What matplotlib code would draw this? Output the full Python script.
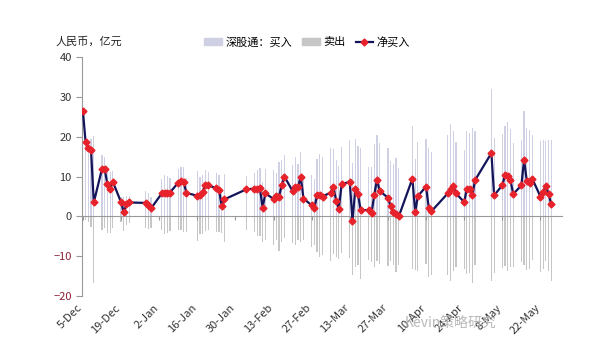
import matplotlib.pyplot as plt
import matplotlib.transforms as mtransforms
import pandas as pd
from matplotlib.patches import Patch
from matplotlib.lines import Line2D

plt.rcParams['font.family'] = ['Noto Sans CJK SC', 'DejaVu Sans']

# trading days (Dec -> 2016, others -> 2017), values in RMB 100m
days = ['12-05', '12-06', '12-07', '12-08', '12-09', '12-12', '12-13', '12-14', '12-15', '12-16',
        '12-19', '12-20', '12-21', '12-22', '12-28', '12-29', '12-30',
        '01-03', '01-04', '01-05', '01-06', '01-09', '01-10', '01-11', '01-12',
        '01-16', '01-17', '01-18', '01-19', '01-20', '01-23', '01-24', '01-25', '01-26',
        '02-03', '02-06', '02-07', '02-08', '02-09', '02-10',
        '02-13', '02-14', '02-15', '02-16', '02-17', '02-20', '02-21', '02-22', '02-23', '02-24',
        '02-27', '02-28', '03-01', '03-02', '03-03', '03-06', '03-07', '03-08', '03-09', '03-10',
        '03-13', '03-14', '03-15', '03-16', '03-17', '03-20', '03-21', '03-22', '03-23', '03-24',
        '03-27', '03-28', '03-29', '03-30', '03-31', '04-05', '04-06', '04-07',
        '04-10', '04-11', '04-12', '04-18', '04-19', '04-20', '04-21',
        '04-24', '04-25', '04-26', '04-27', '04-28', '05-04', '05-05',
        '05-08', '05-09', '05-10', '05-11', '05-12', '05-15', '05-16', '05-17', '05-18', '05-19',
        '05-22', '05-23', '05-24', '05-25', '05-26']

net = [26.6, 18.6, 17.3, 16.7, 3.5, 11.9, 11.9, 8.1, 7.0, 8.7,
       3.6, 1.1, 3.0, 3.5, 3.4, 2.8, 2.0,
       5.8, 5.9, 5.9, 6.0, 8.5, 8.9, 8.7, 5.9,
       5.2, 5.3, 6.2, 8.0, 7.8, 7.1, 6.6, 2.6, 4.3,
       6.8, 7.0, 6.8, 7.1, 2.2, 5.8,
       4.4, 5.1, 5.0, 7.8, 10.0, 6.4, 7.5, 7.3, 10.0, 4.5,
       2.8, 2.2, 5.3, 5.5, 5.0, 6.0, 7.5, 3.9, 1.9, 8.1,
       8.7, -1.2, 6.8, 5.6, 1.6, 1.6, 0.8, 5.5, 9.2, 6.4,
       4.7, 2.6, 1.1, 0.7, 0.0, 9.5, 1.1, 5.1,
       7.5, 2.2, 1.3, 5.8, 7.0, 7.7, 5.8,
       3.6, 7.0, 6.8, 5.3, 9.1, 15.9, 5.3,
       7.8, 10.4, 10.1, 9.2, 5.6, 7.8, 14.2, 8.9, 8.3, 9.5,
       5.0, 6.1, 7.7, 5.6, 3.0]

buy = [27.2, 19.5, 18.6, 19.4, 20.1, 15.4, 14.8, 12.3, 11.2, 11.5,
       4.9, 4.8, 5.2, 5.1, 6.4, 5.9, 4.9,
       9.3, 10.4, 10.1, 9.7, 11.8, 12.4, 12.5, 9.7,
       11.4, 9.8, 10.5, 11.6, 11.2, 10.9, 10.5, 6.8, 10.6,
       10.2, 10.9, 11.6, 12.1, 8.6, 11.8,
       11.6, 11.0, 13.7, 14.2, 15.4, 13.0, 14.8, 13.2, 16.3, 10.4,
       10.5, 9.5, 14.3, 15.6, 14.8, 17.1, 17.0, 14.2, 12.6, 17.4,
       19.2, 13.4, 19.4, 17.8, 17.2, 12.5, 12.3, 18.2, 20.5, 18.4,
       17.2, 13.9, 13.2, 14.6, 12.2, 22.7, 14.5, 18.8,
       19.4, 17.3, 16.1, 20.4, 23.3, 21.5, 18.6,
       16.8, 21.4, 21.0, 22.1, 21.4, 32.0, 19.6,
       20.7, 22.8, 23.7, 22.0, 18.4, 19.2, 26.4, 22.3, 21.6, 20.4,
       19.0, 19.2, 18.9, 19.3, 19.1]

sell = [-0.6, -0.9, -1.3, -2.7, -16.6, -3.5, -2.9, -4.2, -4.2, -2.8,
        -1.3, -3.7, -2.2, -1.6, -3.0, -3.1, -2.9,
        -3.5, -4.5, -4.2, -3.7, -3.3, -3.5, -3.8, -3.8,
        -6.2, -4.5, -4.3, -3.6, -3.4, -3.8, -3.9, -4.2, -6.3,
        -3.4, -3.9, -4.8, -5.0, -6.4, -6.0,
        -7.2, -5.9, -8.7, -6.4, -5.4, -6.6, -7.3, -5.9, -6.3, -5.9,
        -7.7, -7.3, -9.0, -10.1, -9.8, -11.1, -9.5, -10.3, -10.7, -9.3,
        -10.5, -14.6, -12.6, -12.2, -15.6, -10.9, -11.5, -12.7, -11.3, -12.0,
        -12.5, -11.3, -12.1, -13.9, -12.2, -13.2, -13.4, -13.7,
        -11.9, -15.1, -14.8, -14.6, -16.3, -13.8, -12.8,
        -13.2, -14.4, -14.2, -16.8, -12.3, -16.1, -14.3,
        -12.9, -12.4, -13.6, -12.8, -12.8, -11.4, -12.2, -13.4, -13.3, -10.9,
        -14.0, -13.1, -11.2, -13.7, -16.1]

tick_days = ['2016-12-05', '2016-12-19', '2017-01-02', '2017-01-16', '2017-01-30',
             '2017-02-13', '2017-02-27', '2017-03-13', '2017-03-27', '2017-04-10',
             '2017-04-24', '2017-05-08', '2017-05-22']
tick_labels = ['5-Dec', '19-Dec', '2-Jan', '16-Jan', '30-Jan', '13-Feb', '27-Feb',
               '13-Mar', '27-Mar', '10-Apr', '24-Apr', '8-May', '22-May']

dates = pd.to_datetime([('2016-' if d.startswith('12') else '2017-') + d for d in days])
ticks = pd.to_datetime(tick_days)

fig = plt.figure(figsize=(6, 3.55), dpi=100)
ax = fig.add_axes([0.137, 0.166, 0.80, 0.673])

ax.bar(dates, buy, width=0.45, color='#d0d0e4', zorder=1)
ax.bar(dates, sell, width=0.45, color='#c6c6c6', zorder=1)
ax.plot(dates, net, color='#14145a', lw=1.6, marker='D', ms=3.5,
        mfc='#e8222b', mec='#e8222b', zorder=3)

ax.set_ylim(-20, 40)
ax.set_yticks(range(-20, 41, 10))
start = pd.Timestamp('2016-12-05')
ax.set_xlim(start - pd.Timedelta(hours=6), start + pd.Timedelta(days=176))
ax.set_xticks(ticks)
ax.set_xticklabels(tick_labels)

# remove top and right spines, x axis sits on zero
ax.spines['top'].set_visible(False)
ax.spines['right'].set_visible(False)
ax.spines['left'].set_color('#999999')
ax.spines['bottom'].set_position(('data', 0))
ax.spines['bottom'].set_color('#999999')

ax.tick_params(axis='x', length=3, color='#999999', pad=59, labelsize=8, labelcolor='#333333')
ax.tick_params(axis='y', length=4, color='#999999', labelsize=8, labelcolor='#333333')
shift = mtransforms.ScaledTranslation(-6 / 100, 0, fig.dpi_scale_trans)
for lbl in ax.get_xticklabels():
    lbl.set_rotation(45)
    lbl.set_ha('right')
    lbl.set_rotation_mode('anchor')
    lbl.set_transform(lbl.get_transform() + shift)
for lbl, v in zip(ax.get_yticklabels(), ax.get_yticks()):
    if v < 0:
        lbl.set_color('#8c2332')

fig.text(0.092, 0.882, '人民币，亿元', fontsize=8, va='center', color='#222222')

handles = [Patch(color='#d0d0e4'), Patch(color='#c6c6c6'),
           Line2D([], [], color='#14145a', lw=1.6, marker='D', ms=3.5,
                  mfc='#e8222b', mec='#e8222b')]
fig.legend(handles, ['深股通：买入', '卖出', '净买入'], loc='center',
           bbox_to_anchor=(0.512, 0.882), ncol=3, frameon=False, fontsize=8,
           handlelength=1.6, handleheight=0.6, handletextpad=0.3, columnspacing=0.9)

# watermark
fig.text(0.675, 0.09, 'Kevin策略研究', fontsize=10, color='#b0b0b0', va='center', alpha=0.9)

fig.savefig('out.png', dpi=100)
plt.close(fig)
